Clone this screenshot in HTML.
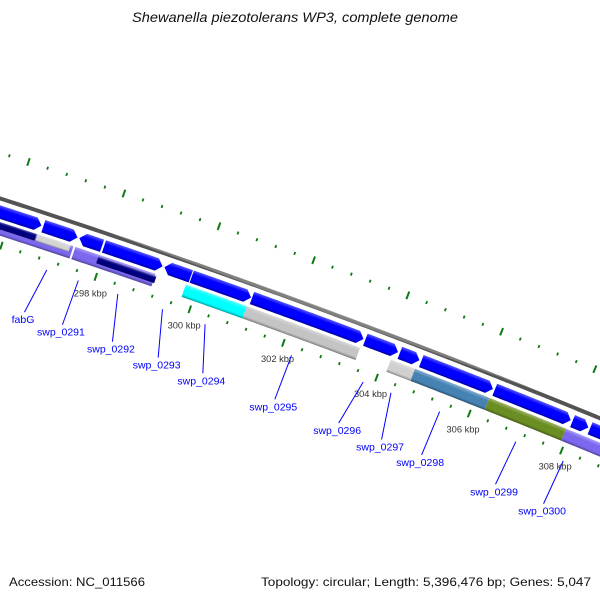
<!DOCTYPE html>
<html>
<head>
<meta charset="utf-8">
<style>
html,body{margin:0;padding:0;background:#fff;}
svg{display:block;}
text{font-family:"Liberation Sans","DejaVu Sans",sans-serif;}
</style>
</head>
<body>
<svg id="map" width="600" height="600" viewBox="0 0 600 600" xmlns="http://www.w3.org/2000/svg">
  <rect x="0" y="0" width="600" height="600" fill="#ffffff"/>
  <defs id="defs"></defs>
  <g id="ticks"></g>
  <g id="backbone"></g>
  <g id="features"></g>
  <g id="labels"></g>
  <text x="295" y="22" text-anchor="middle" font-size="14" font-style="italic" fill="#111" textLength="326" lengthAdjust="spacingAndGlyphs">Shewanella piezotolerans WP3, complete genome</text>
  <text x="9" y="586" font-size="12" fill="#111" textLength="136" lengthAdjust="spacingAndGlyphs">Accession: NC_011566</text>
  <text x="591" y="586" text-anchor="end" font-size="12" fill="#111" textLength="330" lengthAdjust="spacingAndGlyphs">Topology: circular; Length: 5,396,476 bp; Genes: 5,047</text>
</svg>
<script>
// ---- data (kbp) ----
const fwdStart = [295.3, 296.68, 297.44, 297.96, 299.24, 299.82, 301.1, 303.52, 304.26, 304.72, 306.3, 307.98, 308.36];
const fwdEnd   = [296.64, 297.4, 297.92, 299.2, 299.8, 301.08, 303.48, 304.22, 304.68, 306.26, 307.94, 308.32, 309.6];
const fwdDir   = [1, 1, -1, 1, -1, 1, 1, 1, 1, 1, 1, 1, 1];
const revStart = [295.3, 295.3, 296.62, 297.42, 297.92, 299.76, 301.06, 304.14, 304.66, 306.26, 307.92];
const revEnd   = [297.38, 296.6, 297.32, 299.12, 299.15, 301.06, 303.48, 304.66, 306.26, 307.92, 309.6];
const revColor = ["#7b68ee", "#000080", "#d3d3d3", "#7b68ee", "#000080", "#00ffff", "#c4c4c4", "#d0d0d0", "#4682b4", "#6b8e23", "#7b68ee"];
const revPart  = ["full", "top", "top", "full", "mid", "full", "full", "full", "full", "full", "full"];
const tickStartKbp = 294;
const tickStepKbp = 0.4;
const tickCount = 44;
const tickLabelKbp = [298, 300, 302, 304, 306, 308];
const labelNames = ["fabG", "swp_0291", "swp_0292", "swp_0293", "swp_0294", "swp_0295", "swp_0296", "swp_0297", "swp_0298", "swp_0299", "swp_0300"];
const labelKbp    = [297.02, 297.69, 298.53, 299.48, 300.39, 302.24, 303.78, 304.38, 305.43, 307.08, 308.11];
const labelEndKbp = [296.86, 297.67, 298.74, 299.72, 300.68, 302.23, 303.61, 304.54, 305.41, 307.02, 308.07];

// ---- geometry ----
const R = 8000, CX = -2449.8, CY = 7813.6;
const PHI0 = Math.atan2(198 - CY, 0 - CX);
function uOf(kbp){ return 216 + 50 * (kbp - 300); }
function pt(kbp, v){
  const a = PHI0 + uOf(kbp) / R;
  const r = R - v;
  return [CX + r * Math.cos(a), CY + r * Math.sin(a)];
}
const NS = "http://www.w3.org/2000/svg";
const defs = document.getElementById("defs");
let gid = 0;
function mix(hex, t, target){
  const n = parseInt(hex.slice(1), 16);
  const c = [(n >> 16) & 255, (n >> 8) & 255, n & 255].map(x => Math.round(x + (target - x) * t));
  return "rgb(" + c.join(",") + ")";
}
function grad(color, k1, k2, v1, v2){
  const km = (k1 + k2) / 2;
  const p1 = pt(km, v1), p2 = pt(km, v2);
  const g = document.createElementNS(NS, "linearGradient");
  const id = "g" + (gid++);
  g.setAttribute("id", id);
  g.setAttribute("gradientUnits", "userSpaceOnUse");
  g.setAttribute("x1", p1[0]); g.setAttribute("y1", p1[1]);
  g.setAttribute("x2", p2[0]); g.setAttribute("y2", p2[1]);
  const stops = [[0, mix(color, 0.35, 255)], [0.3, mix(color, 0, 0)], [0.78, mix(color, 0, 0)], [1, mix(color, 0.35, 0)]];
  stops.forEach(s => {
    const st = document.createElementNS(NS, "stop");
    st.setAttribute("offset", s[0]);
    st.setAttribute("stop-color", s[1]);
    g.appendChild(st);
  });
  defs.appendChild(g);
  return "url(#" + id + ")";
}
function bandPath(k1, k2, v1, v2, dir){
  const h = Math.min(0.12, (k2 - k1) * 0.6);
  let a1 = k1, a2 = k2;
  if (dir === 1) a2 = k2 - h;
  if (dir === -1) a1 = k1 + h;
  const n = Math.max(2, Math.ceil((a2 - a1) * 50 / 4) + 1);
  const top = [], bot = [];
  for (let i = 0; i < n; i++){
    const k = a1 + (a2 - a1) * i / (n - 1);
    top.push(pt(k, v1));
    bot.push(pt(k, v2));
  }
  const vm = (v1 + v2) / 2;
  let pts = [];
  if (dir === -1) pts.push(pt(k1, vm));
  pts = pts.concat(top);
  if (dir === 1) pts.push(pt(k2, vm));
  pts = pts.concat(bot.reverse());
  return "M" + pts.map(p => p[0].toFixed(2) + "," + p[1].toFixed(2)).join("L") + "Z";
}

// backbone
const bb = document.getElementById("backbone");
const bbPath = document.createElementNS(NS, "path");


bbPath.setAttribute("d", bandPath(292, 313, -1.5, 2.5, 0));
bbPath.setAttribute("fill", grad("#808080", 292, 313, -1.5, 2.5));
bb.appendChild(bbPath);

// forward features
const fg = document.getElementById("features");
for (let i = 0; i < fwdStart.length; i++){
  const p = document.createElementNS(NS, "path");
  
  
  p.setAttribute("d", bandPath(fwdStart[i], fwdEnd[i], 7, 20, fwdDir[i]));
  p.setAttribute("fill", grad("#0000ff", fwdStart[i], fwdEnd[i], 7, 20));
  fg.appendChild(p);
}
// reverse features
for (let i = 0; i < revStart.length; i++){
  let v1 = 23, v2 = 36;
  if (revPart[i] === "top"){ v1 = 23; v2 = 30; }
  if (revPart[i] === "mid"){ v1 = 25; v2 = 32; }
  const p = document.createElementNS(NS, "path");
  
  
  p.setAttribute("d", bandPath(revStart[i], revEnd[i], v1, v2, 0));
  p.setAttribute("fill", grad(revColor[i], revStart[i], revEnd[i], v1, v2));
  fg.appendChild(p);
}

// ticks
const tg = document.getElementById("ticks");
for (let i = 0; i < tickCount; i++){
  const k = tickStartKbp + tickStepKbp * i;
  const major = (i % 5 === 0);
  const rows = major ? [[41, 49], [-47, -39]] : [[43.5, 46.5], [-44.5, -41.5]];
  rows.forEach((r, j) => {
    const a = pt(k, r[0]), b = pt(k, r[1]);
    const l = document.createElementNS(NS, "line");
    
    
    l.setAttribute("x1", a[0]); l.setAttribute("y1", a[1]);
    l.setAttribute("x2", b[0]); l.setAttribute("y2", b[1]);
    l.setAttribute("stroke", "#0f7a0f");
    l.setAttribute("stroke-width", major ? 2 : 1.8);
    tg.appendChild(l);
  });
}
tickLabelKbp.forEach(k => {
  const p = pt(k, 62);
  const t = document.createElementNS(NS, "text");
  
  
  t.setAttribute("x", p[0]); t.setAttribute("y", p[1] + 3.3);
  t.setAttribute("text-anchor", "middle");
  t.setAttribute("font-size", "9.3");
  t.setAttribute("fill", "#333");
  t.textContent = k + " kbp";
  tg.appendChild(t);
});

// feature labels
const lg = document.getElementById("labels");
for (let i = 0; i < labelNames.length; i++){
  const a = pt(labelKbp[i], 54), b = pt(labelEndKbp[i], 101);
  const l = document.createElementNS(NS, "line");
  
  
  l.setAttribute("x1", a[0]); l.setAttribute("y1", a[1]);
  l.setAttribute("x2", b[0]); l.setAttribute("y2", b[1]);
  l.setAttribute("stroke", "#0000ff");
  l.setAttribute("stroke-width", "1");
  lg.appendChild(l);
  const t = document.createElementNS(NS, "text");
  
  
  t.setAttribute("x", b[0] - 1.5); t.setAttribute("y", b[1] + 11);
  t.setAttribute("text-anchor", "middle");
  t.setAttribute("font-size", "10.5");
  t.setAttribute("fill", "#0000ff");
  t.textContent = labelNames[i];
  lg.appendChild(t);
}
</script>
</body>
</html>
